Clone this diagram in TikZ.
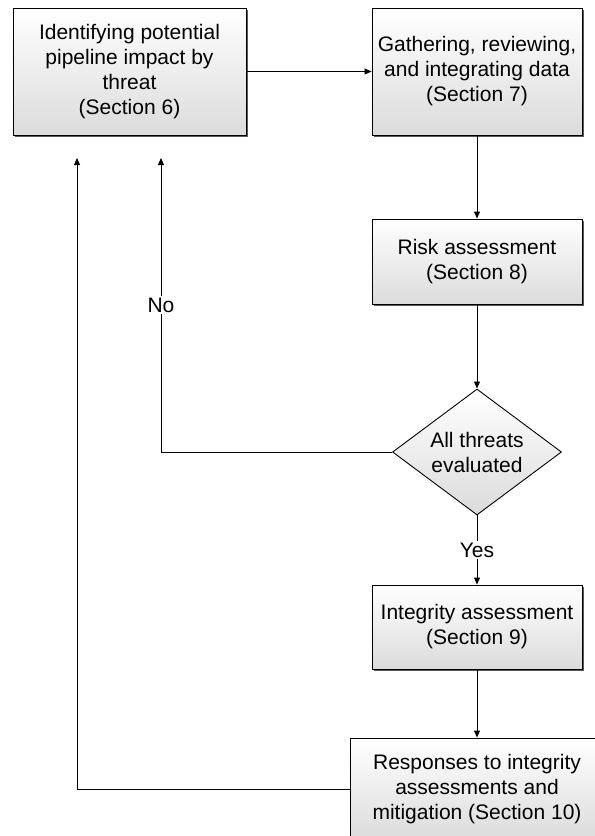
\documentclass[tikz,border=0pt]{standalone}
\usepackage{fontspec}
\setmainfont{Liberation Sans}
\usetikzlibrary{positioning, arrows.meta, shapes.geometric, shadows}

\begin{document}
\begin{tikzpicture}[
    x=1bp, y=-1bp,
    font=\fontsize{21bp}{25bp}\selectfont,
    block/.style={rectangle, draw=black, line width=0.9bp, align=center, top color=white, bottom color=black!14, drop shadow={shadow xshift=1.8bp, shadow yshift=-1.8bp, fill=black!65, opacity=1}},
    decision/.style={diamond, draw=black, line width=0.9bp, align=center, aspect=1.34, inner sep=0pt, top color=white, bottom color=black!14, minimum width=169bp, minimum height=126bp},
    arrow/.style={-{Triangle[length=7bp, width=6bp]}, line width=0.9bp},
    lbl/.style={fill=white, inner sep=2bp}
]
    \useasboundingbox (0,0) rectangle (595,836);

    % Blocks
    \node[block, minimum width=233bp, minimum height=127bp] (ident) at (129.5,71.5) {Identifying potential\\pipeline impact by\\threat\\(Section 6)};
    \node[block, minimum width=210bp, minimum height=127bp] (gather) at (477,71.5) {Gathering, reviewing,\\and integrating data\\(Section 7)};
    \node[block, minimum width=210bp, minimum height=85bp] (risk) at (477,261.5) {Risk assessment\\(Section 8)};
    \node[decision] (check) at (477,452) {All threats\\evaluated};
    \node[block, minimum width=210bp, minimum height=84bp] (integ) at (477,627) {Integrity assessment\\(Section 9)};
    \node[block, minimum width=254bp, minimum height=102bp] (resp) at (477,789) {Responses to integrity\\assessments and\\mitigation (Section 10)};

    % Loop ends
    \coordinate (noup) at (161,158);
    \coordinate (loopup) at (77,158);

    % Main flow
    \draw[arrow] (ident) -- (gather);
    \draw[arrow] (gather) -- (risk);
    \draw[arrow] (risk) -- (check);
    \draw[arrow] (check.south) -- node[lbl] {Yes} (integ.north);
    \draw[arrow] (integ) -- (resp);

    % Feedback
    \draw[arrow] (check.west) -| node[lbl, pos=0.75] {No} (noup);
    \draw[arrow] (resp.west) -| (loopup);

\end{tikzpicture}
\end{document}
